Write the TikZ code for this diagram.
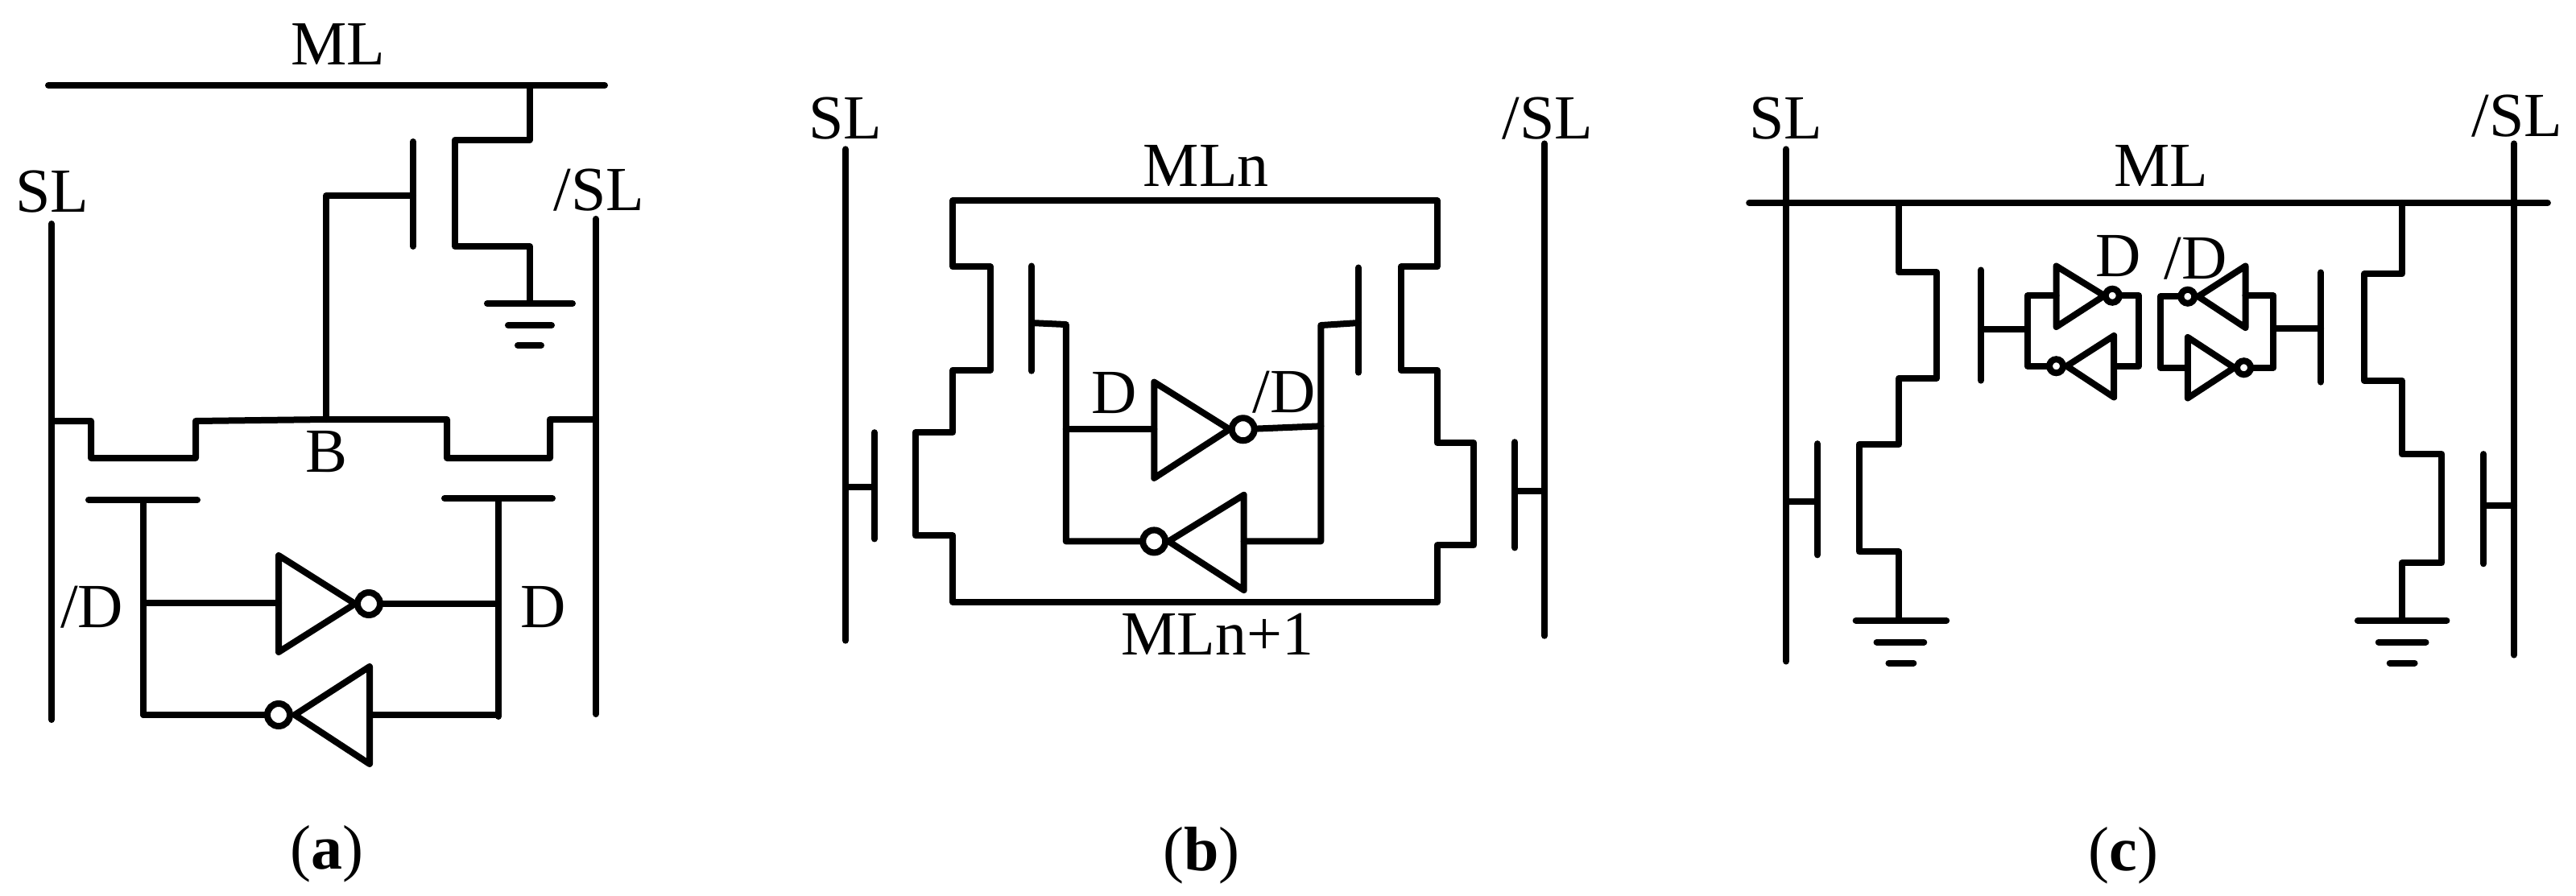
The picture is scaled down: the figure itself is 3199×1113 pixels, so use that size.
\documentclass[tikz,border=0pt]{standalone}
\usepackage{fontspec}
\setmainfont{Liberation Serif}
\tikzset{
  wire/.style={draw=black,line width=8pt,line cap=round,line join=round},
  lbl/.style={inner sep=0pt,font=\fontsize{78}{84}\selectfont,text=black},
  bubble/.style={circle,draw=black,line width=8pt,fill=white,inner sep=0pt,minimum size=28pt},
  smallbubble/.style={circle,draw=black,line width=8pt,fill=white,inner sep=0pt,minimum size=17pt},
}
\begin{document}
\begin{tikzpicture}[x=1pt,y=-1pt]
\fill[white] (0,0) rectangle (3199,1113);
\useasboundingbox (0,0) rectangle (3199,1113);
% ---------- captions ----------
\node[lbl] (acap) at (406,1061) {(\textbf{a})};
\node[lbl] (bcap) at (1492,1063) {(\textbf{b})};
\node[lbl] (ccap) at (2637,1063) {(\textbf{c})};
% ---------- panel a ----------
\node[lbl] (aML) at (420,55) {ML};
\node[lbl] (aSL) at (65,238) {SL};
\node[lbl] (anSL) at (744,236) {/SL};
\node[lbl] (aB) at (406,561) {B};
\node[lbl] (anD) at (114,754) {/D};
\node[lbl] (aD) at (675,754) {D};
\draw[wire] (60,106) -- (751,106);
\draw[wire] (658,106) -- (658,174) -- (565,174) -- (565,306) -- (658,306) -- (658,377);
\draw[wire] (605,377) -- (711,377);
\draw[wire] (631,404) -- (685,404);
\draw[wire] (643,429) -- (672,429);
\draw[wire] (513,176) -- (513,306);
\draw[wire] (513,243) -- (405,243) -- (405,521);
\draw[wire] (64,278) -- (64,894);
\draw[wire] (740,272) -- (740,887);
\draw[wire] (64,523) -- (113,523) -- (113,569) -- (243,569) -- (243,523) -- (405,521) -- (555,521) -- (555,569) -- (683,569) -- (683,521) -- (740,521);
\draw[wire] (110,621) -- (245,621);
\draw[wire] (552,619) -- (686,619);
\draw[wire] (178,621) -- (178,888);
\draw[wire] (619,619) -- (619,890);
\draw[wire] (346,690) -- (441,750) -- (346,810) -- cycle;
\draw[wire] (459,828) -- (366,888) -- (459,949) -- cycle;
\node[bubble] (ab1) at (458,750) {};
\node[bubble] (ab2) at (346,888) {};
\draw[wire] (178,749) -- (346,749);
\draw[wire] (ab1) -- (619,750);
\draw[wire] (178,888) -- (ab2);
\draw[wire] (459,888) -- (619,888);
% ---------- panel b ----------
\begin{scope}[shift={(4.83,0.48)},x=0.9954pt,y=-0.994pt]
\node[lbl] (bSL) at (1050,147) {SL};
\node[lbl] (bnSL) at (1926,147) {/SL};
\node[lbl] (bMLn) at (1500,207) {MLn};
\node[lbl] (bMLp) at (1514,792) {MLn+1};
\node[lbl] (bD) at (1385,490) {D};
\node[lbl] (bnD) at (1597,490) {/D};
\draw[wire] (1050,186) -- (1050,800);
\draw[wire] (1922,179) -- (1922,794);
\draw[wire] (1184,250) -- (1184,333) -- (1231,333) -- (1231,462) -- (1184,462) -- (1184,540) -- (1137,540) -- (1137,669) -- (1184,669) -- (1184,752) -- (1788,752) -- (1788,681) -- (1834,681) -- (1834,553) -- (1788,553) -- (1788,462) -- (1743,462) -- (1743,333) -- (1788,333) -- (1788,250) -- cycle;
\draw[wire] (1282,332) -- (1282,463);
\draw[wire] (1282,403) -- (1325,405) -- (1325,676) -- (1435,676);
\draw[wire] (1690,334) -- (1690,465);
\draw[wire] (1690,403) -- (1643,406) -- (1643,676) -- (1547,676);
\draw[wire] (1325,536) -- (1435,536);
\draw[wire] (1435,477) -- (1529,536) -- (1435,597) -- cycle;
\draw[wire] (1547,618) -- (1453,676) -- (1547,737) -- cycle;
\node[bubble] (bb1) at (1546,536) {};
\node[bubble] (bb2) at (1435,676) {};
\coordinate (bj) at (1643,532);
\draw[wire] (bb1) -- (bj);
\draw[wire] (1086,540) -- (1086,673);
\draw[wire] (1050,608) -- (1086,608);
\draw[wire] (1885,552) -- (1885,684);
\draw[wire] (1885,613) -- (1922,613);
\end{scope}
% ---------- panel c ----------
\begin{scope}[shift={(9.76,0.48)},x=0.9956pt,y=-0.994pt]
\node[lbl] (cSL) at (2218,147) {SL};
\node[lbl] (cnSL) at (3130,144) {/SL};
\node[lbl] (cML) at (2686,207) {ML};
\node[lbl] (cD) at (2632,319) {D};
\node[lbl] (cnD) at (2729,323) {/D};
\draw[wire] (2218,186) -- (2218,826);
\draw[wire] (3126,179) -- (3126,818);
\draw[wire] (2172,253) -- (3168,253);
\draw[wire] (2359,253) -- (2359,340) -- (2406,340) -- (2406,472) -- (2359,472) -- (2359,555) -- (2309,555) -- (2309,689) -- (2359,689) -- (2359,775);
\draw[wire] (2305,775) -- (2418,775);
\draw[wire] (2331,802) -- (2390,802);
\draw[wire] (2346,828) -- (2377,828);
\draw[wire] (2986,253) -- (2986,342) -- (2939,342) -- (2939,475) -- (2986,475) -- (2986,567) -- (3036,567) -- (3036,703) -- (2986,703) -- (2986,775);
\draw[wire] (2931,775) -- (3042,775);
\draw[wire] (2957,802) -- (3016,802);
\draw[wire] (2971,828) -- (3002,828);
\draw[wire] (2257,554) -- (2257,693);
\draw[wire] (2218,626) -- (2257,626);
\draw[wire] (3088,567) -- (3088,704);
\draw[wire] (3088,631) -- (3126,631);
\draw[wire] (2461,337) -- (2461,475);
\draw[wire] (2461,411) -- (2519,411);
\draw[wire] (2885,340) -- (2885,477);
\draw[wire] (2885,410) -- (2826,410);
% left latch
\draw[wire] (2555,369) -- (2519,369) -- (2519,457) -- (2555,457);
\draw[wire] (2625,369) -- (2658,369) -- (2658,457) -- (2627,457);
\draw[wire] (2555,332) -- (2615,369) -- (2555,408) -- cycle;
\draw[wire] (2627,419) -- (2568,457) -- (2627,496) -- cycle;
\node[smallbubble] (cb1) at (2625,369) {};
\node[smallbubble] (cb2) at (2555,457) {};
% right latch
\draw[wire] (2791,369) -- (2826,369) -- (2826,459) -- (2789,459);
\draw[wire] (2719,370) -- (2685,370) -- (2685,459) -- (2719,459);
\draw[wire] (2791,332) -- (2732,370) -- (2791,409) -- cycle;
\draw[wire] (2719,421) -- (2777,459) -- (2719,497) -- cycle;
\node[smallbubble] (cb3) at (2719,370) {};
\node[smallbubble] (cb4) at (2789,459) {};
\end{scope}
\end{tikzpicture}
\end{document}
